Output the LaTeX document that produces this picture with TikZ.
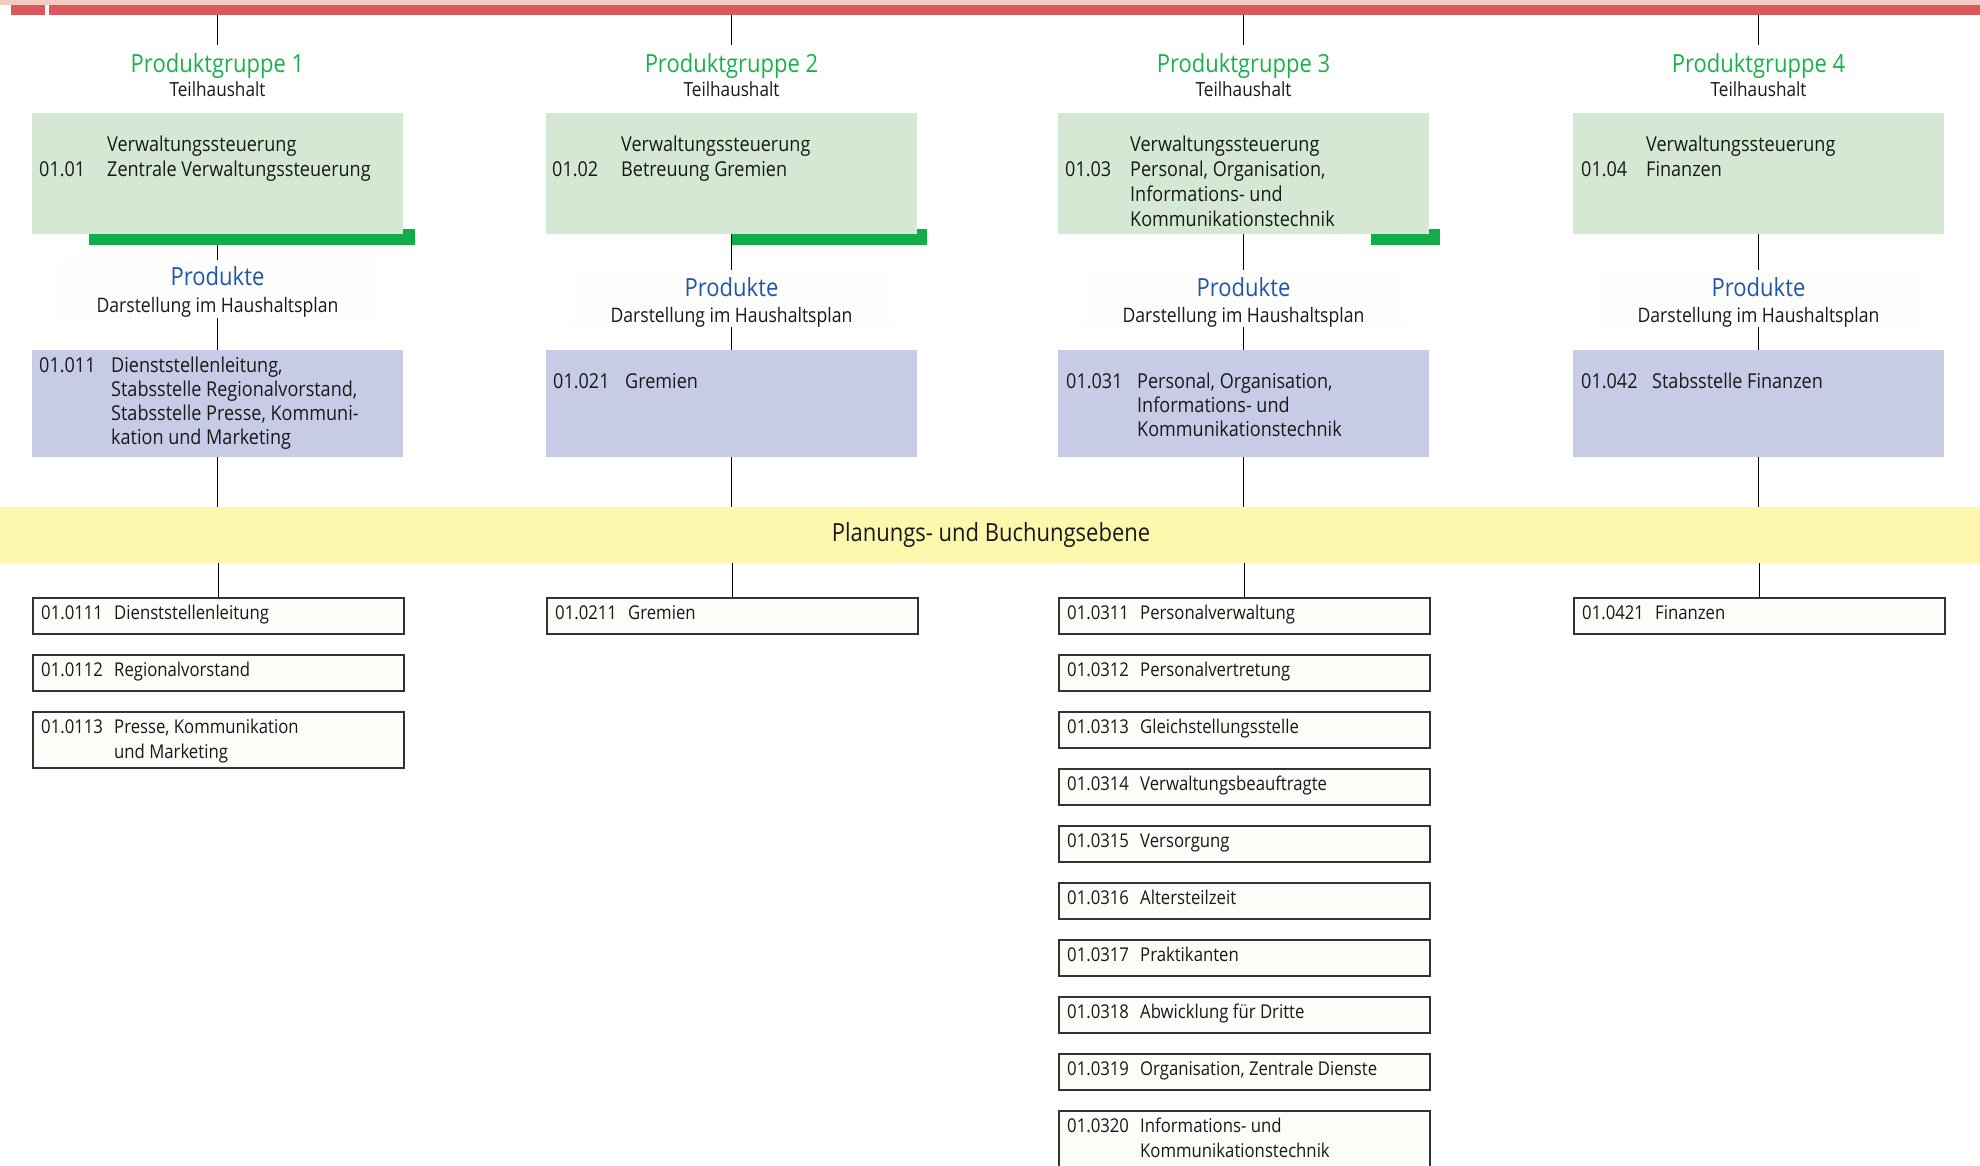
\documentclass[tikz,border=0pt]{standalone}
\usepackage{fontspec}
\setmainfont{Open Sans}[FakeStretch=0.88]
\definecolor{pinkband}{HTML}{F2CCBF}
\definecolor{redband}{HTML}{DC585E}
\definecolor{pgreen}{HTML}{1DAF4B}
\definecolor{gfill}{HTML}{D4E8D4}
\definecolor{barcol}{HTML}{12AD4B}
\definecolor{pblue}{HTML}{2157A8}
\definecolor{pfill}{HTML}{C8CBE6}
\definecolor{yel}{HTML}{FDF8AE}
\definecolor{wfill}{HTML}{FCFDF9}
\definecolor{wline}{HTML}{333333}
\definecolor{labfill}{HTML}{FDFEFC}
\newcommand\szPG{\fontsize{25}{30}\selectfont}
\newcommand\szTH{\fontsize{19.5}{24}\selectfont}
\newcommand\szG{\fontsize{20.5}{25}\selectfont}
\newcommand\szDH{\fontsize{20}{24}\selectfont}
\newcommand\szP{\fontsize{20.5}{24.3}\selectfont}
\newcommand\szW{\fontsize{19}{25}\selectfont}
\newcommand\szY{\fontsize{25}{30}\selectfont}
\newcommand\wbx[6]{%
  \node[wbox, minimum height=#4pt] (#1) at (#2,#3) {};
  \node[txt, font=\szW] (#1n) at (#2+9,#3+22) {#5};
  \node[txt, font=\szW] (#1d) at (#2+82,#3+22) {\begin{tabular}[t]{@{}l@{}}#6\end{tabular}};%
}
\tikzset{
  conn/.style={draw=black, line width=1.3pt},
  gbox/.style={fill=gfill, inner sep=0, outer sep=0, minimum width=371pt, minimum height=121pt, anchor=north west},
  gbar/.style={fill=barcol, inner sep=0, outer sep=0, minimum height=16pt, anchor=north west},
  labbg/.style={fill=labfill, inner sep=0, outer sep=0, minimum width=320pt, anchor=north},
  pbox/.style={fill=pfill, inner sep=0, outer sep=0, minimum width=371pt, minimum height=107pt, anchor=north west},
  wbox/.style={fill=wfill, draw=wline, line width=1.8pt, inner sep=0, minimum width=371pt, anchor=north west},
  bandbox/.style={inner sep=0, outer sep=0, anchor=north west},
  txt/.style={inner sep=0, anchor=base west, text=black!90},
  ctxt/.style={inner sep=0, anchor=base, text=black!90},
}
\begin{document}
\begin{tikzpicture}[x=1pt,y=-1pt]
\useasboundingbox (0,0) rectangle (1980,1166);
\fill[white] (0,0) rectangle (1980,1166);
% top bands
\node[bandbox, fill=pinkband, minimum width=1980pt, minimum height=5pt] (pinkb) at (0,0) {};
\node[bandbox, fill=redband, minimum width=34pt, minimum height=10.5pt] (redl) at (11,5) {};
\node[bandbox, fill=redband, minimum width=1931pt, minimum height=10.5pt] (redb) at (49,5) {};
% green bars (behind boxes)
\node[gbar, minimum width=326pt] (bar1) at (89,229) {};
\node[gbar, minimum width=196pt] (bar2) at (731,229) {};
\node[gbar, minimum width=69pt] (bar3) at (1371,229) {};
% column 1
\node[ctxt, font=\szPG, text=pgreen] (pg1) at (217.5,73) {Produktgruppe 1};
\node[ctxt, font=\szTH] (th1) at (217.5,97) {Teilhaushalt};
\node[gbox] (g1) at (32,113) {};
\node[txt, font=\szG] (g1d) at (107,152) {\begin{tabular}[t]{@{}l@{}}Verwaltungssteuerung\\Zentrale Verwaltungssteuerung\end{tabular}};
\node[txt, font=\szG] (g1n) at (39,177) {01.01};
\node[labbg, minimum height=58pt] (lab1) at (217.5,260) {};
\node[ctxt, font=\szPG, text=pblue] (pr1) at (217.5,286) {Produkte};
\node[ctxt, font=\szDH] (dh1) at (217.5,312) {Darstellung im Haushaltsplan};
\node[pbox] (pu1) at (32,350) {};
\node[txt, font=\szP] (pu1n) at (39,372) {01.011};
\node[txt, font=\szP] (pu1d) at (111,372) {\begin{tabular}[t]{@{}l@{}}Dienststellenleitung,\\Stabsstelle Regionalvorstand,\\Stabsstelle Presse, Kommuni-\\kation und Marketing\end{tabular}};
% column 2
\node[ctxt, font=\szPG, text=pgreen] (pg2) at (731.5,73) {Produktgruppe 2};
\node[ctxt, font=\szTH] (th2) at (731.5,97) {Teilhaushalt};
\node[gbox] (g2) at (546,113) {};
\node[txt, font=\szG] (g2d) at (621,152) {\begin{tabular}[t]{@{}l@{}}Verwaltungssteuerung\\Betreuung Gremien\end{tabular}};
\node[txt, font=\szG] (g2n) at (552,177) {01.02};
\node[labbg, minimum height=57pt] (lab2) at (731.5,270) {};
\node[ctxt, font=\szPG, text=pblue] (pr2) at (731.5,296) {Produkte};
\node[ctxt, font=\szDH] (dh2) at (731.5,322) {Darstellung im Haushaltsplan};
\node[pbox] (pu2) at (546,350) {};
\node[txt, font=\szP] (pu2n) at (553,388) {01.021};
\node[txt, font=\szP] (pu2d) at (625,388) {Gremien};
% column 3
\node[ctxt, font=\szPG, text=pgreen] (pg3) at (1243.5,73) {Produktgruppe 3};
\node[ctxt, font=\szTH] (th3) at (1243.5,97) {Teilhaushalt};
\node[gbox] (g3) at (1058,113) {};
\node[txt, font=\szG] (g3d) at (1130,152) {\begin{tabular}[t]{@{}l@{}}Verwaltungssteuerung\\Personal, Organisation,\\Informations- und\\Kommunikationstechnik\end{tabular}};
\node[txt, font=\szG] (g3n) at (1065,177) {01.03};
\node[labbg, minimum height=57pt] (lab3) at (1243.5,270) {};
\node[ctxt, font=\szPG, text=pblue] (pr3) at (1243.5,296) {Produkte};
\node[ctxt, font=\szDH] (dh3) at (1243.5,322) {Darstellung im Haushaltsplan};
\node[pbox] (pu3) at (1058,350) {};
\node[txt, font=\szP] (pu3n) at (1066,388) {01.031};
\node[txt, font=\szP] (pu3d) at (1137,388) {\begin{tabular}[t]{@{}l@{}}Personal, Organisation,\\Informations- und\\Kommunikationstechnik\end{tabular}};
% column 4
\node[ctxt, font=\szPG, text=pgreen] (pg4) at (1758.5,73) {Produktgruppe 4};
\node[ctxt, font=\szTH] (th4) at (1758.5,97) {Teilhaushalt};
\node[gbox] (g4) at (1573,113) {};
\node[txt, font=\szG] (g4d) at (1646,152) {\begin{tabular}[t]{@{}l@{}}Verwaltungssteuerung\\Finanzen\end{tabular}};
\node[txt, font=\szG] (g4n) at (1581,177) {01.04};
\node[labbg, minimum height=57pt] (lab4) at (1758.5,270) {};
\node[ctxt, font=\szPG, text=pblue] (pr4) at (1758.5,296) {Produkte};
\node[ctxt, font=\szDH] (dh4) at (1758.5,322) {Darstellung im Haushaltsplan};
\node[pbox] (pu4) at (1573,350) {};
\node[txt, font=\szP] (pu4n) at (1581,388) {01.042};
\node[txt, font=\szP] (pu4d) at (1652,388) {Stabsstelle Finanzen};
% yellow band
\node[bandbox, fill=yel, minimum width=1980pt, minimum height=56pt] (yb) at (0,507) {};
\node[ctxt, font=\szY] (ybt) at (991,541) {Planungs- und Buchungsebene};
% white boxes
\wbx{w11}{32}{597}{36}{01.0111}{Dienststellenleitung}
\wbx{w12}{32}{654}{36}{01.0112}{Regionalvorstand}
\wbx{w13}{32}{711}{56}{01.0113}{Presse, Kommunikation\\und Marketing}
\wbx{w21}{546}{597}{36}{01.0211}{Gremien}
\wbx{w31}{1058}{597}{36}{01.0311}{Personalverwaltung}
\wbx{w32}{1058}{654}{36}{01.0312}{Personalvertretung}
\wbx{w33}{1058}{711}{36}{01.0313}{Gleichstellungsstelle}
\wbx{w34}{1058}{768}{36}{01.0314}{Verwaltungsbeauftragte}
\wbx{w35}{1058}{825}{36}{01.0315}{Versorgung}
\wbx{w36}{1058}{882}{36}{01.0316}{Altersteilzeit}
\wbx{w37}{1058}{939}{36}{01.0317}{Praktikanten}
\wbx{w38}{1058}{996}{36}{01.0318}{Abwicklung für Dritte}
\wbx{w39}{1058}{1053}{36}{01.0319}{Organisation, Zentrale Dienste}
\wbx{w310}{1058}{1110}{62}{01.0320}{Informations- und\\Kommunikationstechnik}
\wbx{w41}{1573}{597}{36}{01.0421}{Finanzen}
% connectors
\foreach \i/\c in {1/217.5, 2/731.5, 3/1243.5, 4/1758.5} {
  \coordinate (t\i) at (\c,45);
  \draw[conn] (redb.south -| t\i) -- (t\i);
  \draw[conn] (lab\i.south) -- (pu\i.north);
  \draw[conn] (pu\i.south) -- (pu\i.south |- yb.north);
  \draw[conn] (yb.south -| w\i1.north) -- (w\i1.north);
}
\draw[conn] (bar1.south -| g1.south) -- (lab1.north);
\draw[conn] (g2.south) -- (lab2.north);
\draw[conn] (g3.south) -- (lab3.north);
\draw[conn] (g4.south) -- (lab4.north);
\end{tikzpicture}
\end{document}
